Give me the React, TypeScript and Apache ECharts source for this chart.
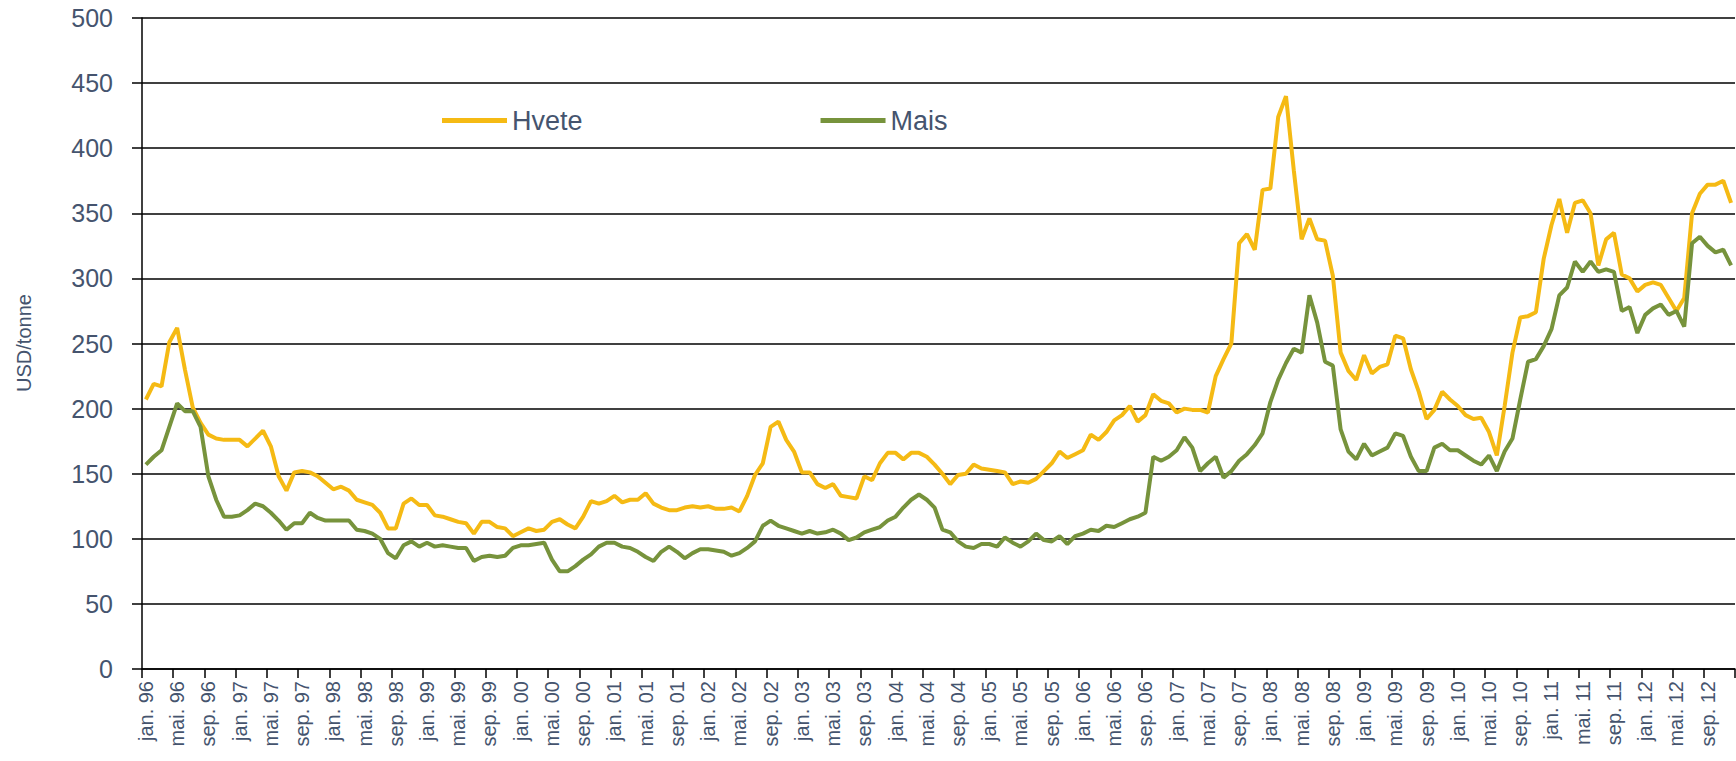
import React, { useEffect, useRef } from "react";
import * as echarts from "echarts";

const monthNames = ["jan.", "feb.", "mar.", "apr.", "mai.", "jun.", "jul.", "aug.", "sep.", "okt.", "nov.", "des."];
const years = ["96", "97", "98", "99", "00", "01", "02", "03", "04", "05", "06", "07", "08", "09", "10", "11", "12"];
const categories: string[] = [];
years.forEach((y) => monthNames.forEach((m) => categories.push(m + " " + y)));

const yTicks = { min: 0, max: 500, interval: 50 };

const hvete = [
  207, 219, 217, 251, 262, 230, 201, 189, 180, 177, 176, 176,
  176, 171, 177, 183, 171, 148, 137, 151, 152, 151, 148, 143,
  138, 140, 137, 130, 128, 126, 120, 108, 108, 127, 131, 126,
  126, 118, 117, 115, 113, 112, 104, 113, 113, 109, 108, 102,
  105, 108, 106, 107, 113, 115, 111, 108, 117, 129, 127, 129,
  133, 128, 130, 130, 135, 127, 124, 122, 122, 124, 125, 124,
  125, 123, 123, 124, 121, 133, 149, 158, 186, 190, 176, 167,
  151, 151, 142, 139, 142, 133, 132, 131, 148, 145, 158, 166,
  166, 161, 166, 166, 163, 157, 150, 142, 149, 150, 157, 154,
  153, 152, 151, 142, 144, 143, 146, 152, 158, 167, 162, 165,
  168, 180, 176, 182, 191, 195, 202, 190, 195, 211, 206, 204,
  197, 200, 199, 199, 197, 225, 238, 250, 327, 334, 322, 368,
  369, 424, 440, 383, 330, 346, 330, 329, 302, 243, 229, 222,
  241, 227, 232, 234, 256, 254, 230, 213, 192, 199, 213, 207,
  202, 195, 192, 193, 182, 164, 202, 243, 270, 271, 274, 315,
  341, 361, 335, 358, 360, 350, 310, 330, 335, 303, 300, 290,
  295, 297, 295, 285, 275, 285, 350, 365, 372, 372, 375, 358,
];

const mais = [
  157, 163, 168, 186, 204, 198, 198, 186, 148, 130, 117, 117,
  118, 122, 127, 125, 120, 114, 107, 112, 112, 120, 116, 114,
  114, 114, 114, 107, 106, 104, 100, 89, 85, 95, 98, 94,
  97, 94, 95, 94, 93, 93, 83, 86, 87, 86, 87, 93,
  95, 95, 96, 97, 84, 75, 75, 79, 84, 88, 94, 97,
  97, 94, 93, 90, 86, 83, 90, 94, 90, 85, 89, 92,
  92, 91, 90, 87, 89, 93, 98, 110, 114, 110, 108, 106,
  104, 106, 104, 105, 107, 104, 99, 101, 105, 107, 109, 114,
  117, 124, 130, 134, 130, 124, 107, 105, 98, 94, 93, 96,
  96, 94, 101, 97, 94, 98, 104, 99, 98, 102, 96, 102,
  104, 107, 106, 110, 109, 112, 115, 117, 120, 163, 160, 163,
  168, 178, 170, 152, 158, 163, 147, 152, 160, 165, 172, 181,
  205, 222, 235, 246, 243, 287, 266, 236, 233, 184, 167, 161,
  173, 164, 167, 170, 181, 179, 163, 152, 152, 170, 173, 168,
  168, 164, 160, 157, 164, 152, 167, 177, 207, 236, 238, 248,
  261, 287, 293, 313, 305, 313, 305, 307, 305, 275, 278, 258,
  272, 277, 280, 272, 275, 263, 327, 332, 325, 320, 322, 310,
];

const TEXT = "#45546e";
const FONT = "'Liberation Sans', Arial, sans-serif";

export default function App() {
  const ref = useRef<HTMLDivElement>(null);
  useEffect(() => {
    if (!ref.current) return;
    const chart = echarts.init(ref.current, undefined, { renderer: "svg" });
    chart.setOption({
      animation: false,
      backgroundColor: "#ffffff",
      textStyle: { fontFamily: FONT },
      grid: { left: 142, right: 1, top: 18, bottom: 92, containLabel: false },
      legend: {
        left: 437,
        top: 102,
        itemWidth: 65,
        itemHeight: 5,
        itemGap: 238,
        icon: "rect",
        textStyle: { fontSize: 27, color: TEXT, fontFamily: FONT },
        data: ["Hvete", "Mais"],
      },
      graphic: [
        {
          type: "text",
          x: 24,
          y: 343,
          rotation: Math.PI / 2,
          style: {
            text: "USD/tonne",
            fontSize: 20,
            fontFamily: FONT,
            fill: TEXT,
            textAlign: "center",
            textVerticalAlign: "middle",
          },
        },
      ],
      xAxis: {
        type: "category",
        data: categories,
        boundaryGap: true,
        axisLine: { show: true, lineStyle: { color: "#000", width: 1.5 } },
        axisTick: { show: true, interval: 3, length: 9, lineStyle: { color: "#000", width: 1.5 } },
        axisLabel: {
          interval: 3,
          rotate: 90,
          fontSize: 20,
          color: TEXT,
          margin: 12,
          fontFamily: FONT,
        },
        splitLine: { show: false },
      },
      yAxis: {
        type: "value",
        min: yTicks.min,
        max: yTicks.max,
        interval: yTicks.interval,
        axisLine: { show: true, lineStyle: { color: "#000", width: 1.5 } },
        axisTick: { show: true, length: 10, lineStyle: { color: "#000", width: 1.5 } },
        axisLabel: { fontSize: 25, color: TEXT, margin: 29, fontFamily: FONT },
        splitLine: { show: true, lineStyle: { color: "#000", width: 1.5 } },
      },
      series: [
        {
          name: "Hvete",
          type: "line",
          data: hvete,
          showSymbol: false,
          symbol: "none",
          color: "#F5BA14",
          lineStyle: { color: "#F5BA14", width: 4 },
        },
        {
          name: "Mais",
          type: "line",
          data: mais,
          showSymbol: false,
          symbol: "none",
          color: "#77933C",
          lineStyle: { color: "#77933C", width: 4 },
        },
      ],
    });
    return () => chart.dispose();
  }, []);
  return (
    <div
      ref={ref}
      style={{ position: "absolute", left: 0, top: 0, width: 1736, height: 761, background: "#fff" }}
    />
  );
}
